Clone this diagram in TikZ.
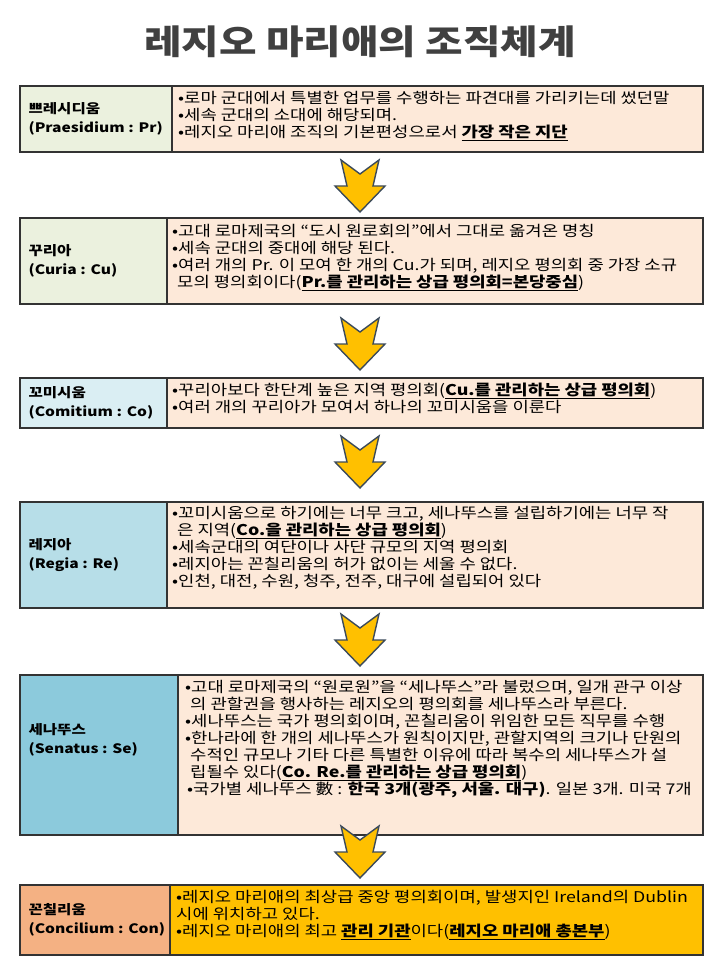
\documentclass[tikz,border=0pt]{standalone}
\usepackage{fontspec}
\setmainfont{Noto Sans CJK KR}[FakeStretch=1.2]
\usetikzlibrary{positioning,calc}
\definecolor{boxtext}{HTML}{FDE9D9}
\definecolor{leafgreen}{HTML}{EBF1DE}
\definecolor{paleblue}{HTML}{DAEEF3}
\definecolor{midblue}{HTML}{B7DEE8}
\definecolor{deepblue}{HTML}{8CCADC}
\definecolor{peach}{HTML}{F4B183}
\definecolor{gold}{HTML}{FFC000}
\definecolor{arrowline}{HTML}{3B4A5A}
\newcommand{\key}[1]{\textbf{\underline{#1}}}
\begin{document}
\begin{tikzpicture}[x=1pt,y=-1pt,
  cell/.style={draw=black!80,line width=1.6pt},
  rolename/.style={anchor=west,align=left,font=\fontsize{13}{19}\selectfont\bfseries},
  notetext/.style={anchor=north west,align=left,font=\fontsize{14.8}{17}\selectfont,inner sep=0pt},
  pics/down/.style={code={
    \draw[fill=gold,draw=arrowline,line width=1.4pt,line join=miter]
      (-19,0) -- (0,14) -- (19,0) -- (13,26) -- (25,26) -- (0,52) -- (-25,26) -- (-13,26) -- cycle;}}]
\useasboundingbox (0,0) rectangle (720,968);
% title
\node[font=\fontsize{34}{40}\selectfont\bfseries,text=black!75] (title) at (360,42) {레지오 마리애의 조직체계};
% praesidium
\draw[cell,fill=leafgreen] (20,86) rectangle (172,152);
\draw[cell,fill=boxtext] (172,86) rectangle (703,152);
\node[rolename] (pr) at (25,119) {쁘레시디움\\(Praesidium : Pr)};
\node[notetext] (prtext) at (178,91) {•로마 군대에서 특별한 업무를 수행하는 파견대를 가리키는데 썼던말\\
•세속 군대의 소대에 해당되며.\\
•레지오 마리애 조직의 기본편성으로서 \key{가장 작은 지단}};
\pic at (360,160) {down};
% curia
\draw[cell,fill=leafgreen] (20,218) rectangle (167,304);
\draw[cell,fill=boxtext] (167,218) rectangle (703,304);
\node[rolename] (cu) at (25,261) {꾸리아\\(Curia : Cu)};
\node[notetext] (cutext) at (172,224) {•고대 로마제국의 “도시 원로회의”에서 그대로 옮겨온 명칭\\
•세속 군대의 중대에 해당 된다.\\
•여러 개의 Pr. 이 모여 한 개의 Cu.가 되며, 레지오 평의회 중 가장 소규\\
\hspace*{5pt}모의 평의회이다(\key{Pr.를 관리하는 상급 평의회=본당중심})};
\pic at (360,318) {down};
% comitium
\draw[cell,fill=paleblue] (20,378) rectangle (167,428);
\draw[cell,fill=boxtext] (167,378) rectangle (703,428);
\node[rolename] (co) at (25,403) {꼬미시움\\(Comitium : Co)};
\node[notetext] (cotext) at (172,383) {•꾸리아보다 한단계 높은 지역 평의회(\key{Cu.를 관리하는 상급 평의회})\\
•여러 개의 꾸리아가 모여서 하나의 꼬미시움을 이룬다};
\pic at (360,436) {down};
% regia
\draw[cell,fill=midblue] (20,502) rectangle (167,608);
\draw[cell,fill=boxtext] (167,502) rectangle (703,608);
\node[rolename] (re) at (25,555) {레지아\\(Regia : Re)};
\node[notetext] (retext) at (172,506) {•꼬미시움으로 하기에는 너무 크고, 세나뚜스를 설립하기에는 너무 작\\
\hspace*{5pt}은 지역(\key{Co.을 관리하는 상급 평의회})\\
•세속군대의 여단이나 사단 규모의 지역 평의회\\
•레지아는 꼰칠리움의 허가 없이는 세울 수 없다.\\
•인천, 대전, 수원, 청주, 전주, 대구에 설립되어 있다};
\pic at (360,614) {down};
% senatus
\draw[cell,fill=deepblue] (20,675) rectangle (178,835);
\draw[cell,fill=boxtext] (178,675) rectangle (703,835);
\node[rolename] (se) at (25,740) {세나뚜스\\(Senatus : Se)};
\node[notetext] (setext) at (185,680) {•고대 로마제국의 “원로원”을 “세나뚜스”라 불렀으며, 일개 관구 이상\\
\hspace*{5pt}의 관할권을 행사하는 레지오의 평의회를 세나뚜스라 부른다.\\
•세나뚜스는 국가 평의회이며, 꼰칠리움이 위임한 모든 직무를 수행\\
•한나라에 한 개의 세나뚜스가 원칙이지만, 관할지역의 크기나 단원의\\
\hspace*{5pt}수적인 규모나 기타 다른 특별한 이유에 따라 복수의 세나뚜스가 설\\
\hspace*{5pt}립될수 있다(\key{Co. Re.를 관리하는 상급 평의회})\\
\hspace*{2pt}•국가별 세나뚜스 數 : \textbf{한국 3개(광주, 서울. 대구)}. 일본 3개. 미국 7개};
\pic at (360,826) {down};
% concilium
\draw[cell,fill=peach] (20,885) rectangle (170,955);
\draw[cell,fill=gold] (170,885) rectangle (703,955);
\node[rolename] (con) at (25,920) {꼰칠리움\\(Concilium : Con)};
\node[notetext] (context) at (176,890) {•레지오 마리애의 최상급 중앙 평의회이며, 발생지인 Ireland의 Dublin\\
시에 위치하고 있다.\\
•레지오 마리애의 최고 \key{관리 기관}이다(\key{레지오 마리애 총본부})};
\end{tikzpicture}
\end{document}
